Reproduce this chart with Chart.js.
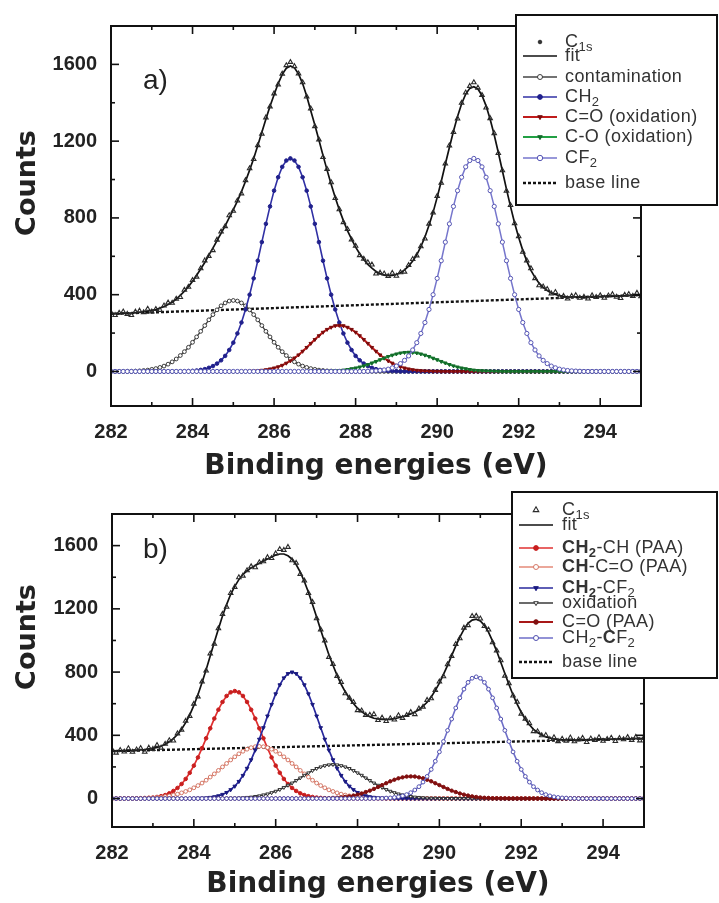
<!DOCTYPE html>
<html><head><meta charset="utf-8">
<script src="https://cdn.jsdelivr.net/npm/chart.js@4.4.0/dist/chart.umd.min.js"></script>
<style>
html,body{margin:0;padding:0;background:#fff;}
#wrap{position:relative;width:719px;height:903px;overflow:hidden;background:#fff;}
#ca{position:absolute;left:0;top:0;}
#cb{position:absolute;left:0;top:488px;}
</style></head><body>
<div id="wrap"><canvas id="ca" width="719" height="488"></canvas><canvas id="cb" width="719" height="415"></canvas></div>
<script>
// ---------- shared axis data ----------
const energies = [
282,282.1,282.2,282.3,282.4,282.5,282.6,282.7,282.8,282.9,
283,283.1,283.2,283.3,283.4,283.5,283.6,283.7,283.8,283.9,
284,284.1,284.2,284.3,284.4,284.5,284.6,284.7,284.8,284.9,
285,285.1,285.2,285.3,285.4,285.5,285.6,285.7,285.8,285.9,
286,286.1,286.2,286.3,286.4,286.5,286.6,286.7,286.8,286.9,
287,287.1,287.2,287.3,287.4,287.5,287.6,287.7,287.8,287.9,
288,288.1,288.2,288.3,288.4,288.5,288.6,288.7,288.8,288.9,
289,289.1,289.2,289.3,289.4,289.5,289.6,289.7,289.8,289.9,
290,290.1,290.2,290.3,290.4,290.5,290.6,290.7,290.8,290.9,
291,291.1,291.2,291.3,291.4,291.5,291.6,291.7,291.8,291.9,
292,292.1,292.2,292.3,292.4,292.5,292.6,292.7,292.8,292.9,
293,293.1,293.2,293.3,293.4,293.5,293.6,293.7,293.8,293.9,
294,294.1,294.2,294.3,294.4,294.5,294.6,294.7,294.8,294.9,
295];
const xTicks = [282,284,286,288,290,292,294];
const xTickLabels = ['282','284','286','288','290','292','294'];
const xMinorTicks = [283,285,287,289,291,293];
const yTicks = [0,400,800,1200,1600];
const yTickLabels = ['0','400','800','1200','1600'];
const yMinorTicks = [200,600,1000,1400];
const xTitle = 'Binding energies (eV)';
const yTitle = 'Counts';

// ---------- panel a ----------
const c1sA = [
306,293,305,312,299,293,311,316,308,326,
312,325,320,343,358,357,378,387,425,440,
476,493,537,578,601,631,686,728,756,813,
836,890,927,996,1058,1106,1178,1238,1323,1380,
1448,1495,1551,1595,1612,1590,1552,1506,1432,1370,
1277,1208,1116,1054,985,903,844,777,741,687,
654,605,586,568,556,509,514,510,496,513,
498,516,519,554,585,604,651,692,769,827,
913,982,1083,1177,1247,1317,1399,1453,1487,1506,
1478,1440,1374,1319,1241,1137,1047,941,866,772,
704,623,578,537,485,448,442,429,406,413,
388,393,379,393,397,383,388,379,396,387,
396,383,395,402,388,382,399,403,393,409,
391];
const fitA = [
300,301,302,302,304,305,307,308,311,314,
319,323,330,338,349,361,377,396,418,442,
470,501,534,568,606,643,682,720,759,801,
843,888,937,991,1049,1110,1177,1247,1316,1382,
1442,1500,1548,1580,1592,1582,1550,1500,1435,1358,
1284,1206,1126,1049,976,907,843,786,734,689,
648,613,583,558,538,521,510,502,499,501,
505,514,529,549,576,608,650,701,762,829,
907,990,1080,1167,1252,1329,1395,1445,1475,1484,
1472,1438,1384,1314,1232,1141,1046,950,859,774,
698,631,575,527,490,460,438,421,409,401,
395,391,389,388,388,387,387,388,389,389,
390,391,392,392,393,394,395,395,396,397,
398];
const contaminationA = [
0,0,0,0,1,1,2,3,5,7,
11,15,21,28,38,50,65,83,103,126,
152,180,209,239,269,296,321,342,357,367,
370,367,357,342,321,296,269,239,209,180,
152,126,103,83,65,50,38,28,21,15,
11,7,5,3,2,1,1,0,0,0,
0,0,0,0,0,0,0,0,0,0,
0,0,0,0,0,0,0,0,0,0,
0,0,0,0,0,0,0,0,0,0,
0,0,0,0,0,0,0,0,0,0,
0,0,0,0,0,0,0,0,0,0,
0,0,0,0,0,0,0,0,0,0,
0,0,0,0,0,0,0,0,0,0,
0];
const ch2A = [
0,0,0,0,0,0,0,0,0,0,
0,0,0,0,0,0,0,0,1,2,
3,5,8,12,19,28,41,58,81,112,
150,198,255,323,400,485,577,674,769,860,
942,1012,1066,1099,1110,1099,1066,1012,942,860,
769,674,577,485,400,323,255,198,150,112,
81,58,41,28,19,12,8,5,3,2,
1,0,0,0,0,0,0,0,0,0,
0,0,0,0,0,0,0,0,0,0,
0,0,0,0,0,0,0,0,0,0,
0,0,0,0,0,0,0,0,0,0,
0,0,0,0,0,0,0,0,0,0,
0,0,0,0,0,0,0,0,0,0,
0];
const coOxA = [
0,0,0,0,0,0,0,0,0,0,
0,0,0,0,0,0,0,0,0,0,
0,0,0,0,0,0,0,0,0,0,
0,0,1,1,2,3,4,6,9,13,
18,24,32,43,55,70,86,105,125,146,
166,186,204,219,230,238,240,238,230,219,
204,186,166,146,125,105,86,70,55,43,
32,24,18,13,9,6,4,3,2,1,
1,0,0,0,0,0,0,0,0,0,
0,0,0,0,0,0,0,0,0,0,
0,0,0,0,0,0,0,0,0,0,
0,0,0,0,0,0,0,0,0,0,
0,0,0,0,0,0,0,0,0,0,
0];
const cOOxA = [
0,0,0,0,0,0,0,0,0,0,
0,0,0,0,0,0,0,0,0,0,
0,0,0,0,0,0,0,0,0,0,
0,0,0,0,0,0,0,0,0,0,
0,0,0,0,0,0,0,0,0,0,
0,1,1,2,3,4,5,7,10,14,
18,23,29,36,44,52,61,69,78,85,
91,96,99,100,99,96,91,85,78,69,
61,52,44,36,29,23,18,14,10,7,
5,4,3,2,1,1,0,0,0,0,
0,0,0,0,0,0,0,0,0,0,
0,0,0,0,0,0,0,0,0,0,
0,0,0,0,0,0,0,0,0,0,
0];
const cf2A = [
0,0,0,0,0,0,0,0,0,0,
0,0,0,0,0,0,0,0,0,0,
0,0,0,0,0,0,0,0,0,0,
0,0,0,0,0,0,0,0,0,0,
0,0,0,0,0,0,0,0,0,0,
0,0,0,0,0,0,0,0,0,0,
0,0,0,1,2,3,5,8,12,19,
28,41,58,81,112,150,198,255,323,400,
485,577,674,769,860,942,1012,1066,1099,1110,
1099,1066,1012,942,860,769,674,577,485,400,
323,255,198,150,112,81,58,41,28,19,
12,8,5,3,2,1,0,0,0,0,
0,0,0,0,0,0,0,0,0,0,
0];
const baseLineA = [{x:282,y:300},{x:295,y:398}];

// ---------- panel b ----------
const c1sB = [
310,289,306,296,317,295,309,319,295,321,
313,338,321,345,368,366,411,435,491,522,
599,645,739,809,917,979,1076,1167,1212,1299,
1338,1399,1409,1443,1468,1462,1494,1500,1526,1520,
1550,1577,1572,1591,1506,1490,1420,1378,1299,1243,
1139,1069,999,895,850,775,737,665,637,610,
558,556,528,529,533,496,511,489,507,499,
526,509,528,547,533,569,580,623,633,686,
739,772,848,901,977,1013,1080,1096,1154,1155,
1138,1090,1068,987,936,874,776,728,651,611,
536,504,476,425,424,399,401,375,387,362,
377,365,385,361,373,383,356,379,369,387,
364,376,384,363,382,374,388,370,389,367,
385];
const fitB = [
300,301,301,302,302,304,306,307,310,314,
317,324,331,343,359,379,405,438,480,530,
589,657,734,815,902,988,1073,1155,1227,1292,
1342,1385,1419,1441,1459,1475,1488,1503,1515,1528,
1540,1547,1547,1536,1514,1480,1432,1373,1305,1228,
1148,1066,987,910,843,779,723,675,635,601,
571,550,531,518,508,504,501,501,502,505,
511,518,525,535,548,562,584,609,643,684,
730,785,842,904,966,1021,1070,1108,1129,1135,
1123,1096,1053,996,933,862,791,721,655,597,
546,502,467,438,418,402,390,383,377,374,
372,371,370,370,370,371,371,372,373,373,
374,374,375,376,376,377,377,378,379,379,
380];
const ch2chB = [
0,0,0,0,0,0,1,1,2,4,
6,10,15,22,33,48,67,92,124,163,
208,260,319,381,444,506,562,611,649,672,
680,672,649,611,562,506,444,381,319,260,
208,163,124,92,67,48,33,22,15,10,
6,4,2,1,1,0,0,0,0,0,
0,0,0,0,0,0,0,0,0,0,
0,0,0,0,0,0,0,0,0,0,
0,0,0,0,0,0,0,0,0,0,
0,0,0,0,0,0,0,0,0,0,
0,0,0,0,0,0,0,0,0,0,
0,0,0,0,0,0,0,0,0,0,
0,0,0,0,0,0,0,0,0,0,
0];
const chcoB = [
0,0,0,0,0,1,1,2,3,4,
5,7,9,13,17,22,28,36,45,55,
68,82,98,116,136,156,178,200,222,244,
264,283,299,312,322,328,330,328,322,312,
299,283,264,244,222,200,178,156,136,116,
98,82,68,55,45,36,28,22,17,13,
9,7,5,4,3,2,1,1,0,0,
0,0,0,0,0,0,0,0,0,0,
0,0,0,0,0,0,0,0,0,0,
0,0,0,0,0,0,0,0,0,0,
0,0,0,0,0,0,0,0,0,0,
0,0,0,0,0,0,0,0,0,0,
0,0,0,0,0,0,0,0,0,0,
0];
const ch2cf2B = [
0,0,0,0,0,0,0,0,0,0,
0,0,0,0,0,0,0,0,0,0,
1,2,3,4,7,11,17,26,38,56,
78,108,146,191,245,306,375,448,522,595,
662,719,763,790,800,790,763,719,662,595,
522,448,375,306,245,191,146,108,78,56,
38,26,17,11,7,4,3,2,1,0,
0,0,0,0,0,0,0,0,0,0,
0,0,0,0,0,0,0,0,0,0,
0,0,0,0,0,0,0,0,0,0,
0,0,0,0,0,0,0,0,0,0,
0,0,0,0,0,0,0,0,0,0,
0,0,0,0,0,0,0,0,0,0,
0];
const oxidationB = [
0,0,0,0,0,0,0,0,0,0,
0,0,0,0,0,0,0,0,0,0,
0,0,0,0,0,0,0,1,1,2,
2,3,5,7,9,13,17,23,29,37,
46,57,70,84,98,114,130,147,162,177,
190,200,208,213,215,213,208,200,190,177,
162,147,130,114,98,84,70,57,46,37,
29,23,17,13,9,7,5,3,2,2,
1,1,0,0,0,0,0,0,0,0,
0,0,0,0,0,0,0,0,0,0,
0,0,0,0,0,0,0,0,0,0,
0,0,0,0,0,0,0,0,0,0,
0,0,0,0,0,0,0,0,0,0,
0];
const coPaaB = [
0,0,0,0,0,0,0,0,0,0,
0,0,0,0,0,0,0,0,0,0,
0,0,0,0,0,0,0,0,0,0,
0,0,0,0,0,0,0,0,0,0,
0,0,0,0,0,0,0,0,0,0,
1,1,2,2,4,5,7,10,14,19,
25,32,41,50,61,73,85,97,109,119,
128,134,139,140,139,134,128,119,109,97,
85,73,61,50,41,32,25,19,14,10,
7,5,4,2,2,1,1,0,0,0,
0,0,0,0,0,0,0,0,0,0,
0,0,0,0,0,0,0,0,0,0,
0,0,0,0,0,0,0,0,0,0,
0];
const ch2CF2B = [
0,0,0,0,0,0,0,0,0,0,
0,0,0,0,0,0,0,0,0,0,
0,0,0,0,0,0,0,0,0,0,
0,0,0,0,0,0,0,0,0,0,
0,0,0,0,0,0,0,0,0,0,
0,0,0,0,0,0,0,0,0,0,
0,0,0,0,0,1,1,3,4,7,
11,17,25,37,54,75,104,140,184,236,
295,361,431,503,573,637,692,735,761,770,
761,735,692,637,573,503,431,361,295,236,
184,140,104,75,54,37,25,17,11,7,
4,3,1,1,0,0,0,0,0,0,
0,0,0,0,0,0,0,0,0,0,
0];
const baseLineB = [{x:282,y:300},{x:295,y:380}];

// legend labels: [text, flags] (b = bold, s = subscript)
const legendLabelsA = [
  [['C',''],['1s','s']],
  [['fit','']],
  [['contamination','']],
  [['CH',''],['2','s']],
  [['C=O (oxidation)','']],
  [['C-O (oxidation)','']],
  [['CF',''],['2','s']],
  [['base line','']]
];
const legendLabelsB = [
  [['C',''],['1s','s']],
  [['fit','']],
  [['CH','b'],['2','bs'],['-CH (PAA)','']],
  [['CH','b'],['-C=O (PAA)','']],
  [['CH','b'],['2','bs'],['-CF',''],['2','s']],
  [['oxidation','']],
  [['C=O (PAA)','']],
  [['CH',''],['2','s'],['-',''],['C','b'],['F',''],['2','s']],
  [['base line','']]
];

// ---------- drawing ----------
Chart.defaults.font.family = '"Liberation Sans", Arial, sans-serif';
const TXT = '#222';

function seg(ctx, segs, x, y) {
  for (const [t, f] of segs) {
    const bold = f.includes('b'), sub = f.includes('s');
    ctx.font = (bold ? 'bold ' : '') + (sub ? 13 : 18) + 'px "Liberation Sans"';
    ctx.fillText(t, x, y + (sub ? 5 : 0));
    x += ctx.measureText(t).width;
  }
}

const decor = {
  id: 'decor',
  afterDraw(chart, _a, o) {
    const ctx = chart.ctx, ca = chart.chartArea, xs = chart.scales.x, ys = chart.scales.y;
    ctx.save();
    ctx.strokeStyle = '#111';
    ctx.lineWidth = 2;
    ctx.strokeRect(ca.left, ca.top, ca.right - ca.left, ca.bottom - ca.top);
    ctx.lineWidth = 1.6;
    const ln = (x1, y1, x2, y2) => { ctx.beginPath(); ctx.moveTo(x1, y1); ctx.lineTo(x2, y2); ctx.stroke(); };
    xTicks.forEach(v => { const p = xs.getPixelForValue(v); ln(p, ca.bottom, p, ca.bottom - 8); ln(p, ca.top, p, ca.top + 8); });
    xMinorTicks.forEach(v => { const p = xs.getPixelForValue(v); ln(p, ca.bottom, p, ca.bottom - 4); ln(p, ca.top, p, ca.top + 4); });
    yTicks.forEach(v => { const p = ys.getPixelForValue(v); ln(ca.left, p, ca.left + 8, p); ln(ca.right, p, ca.right - 8, p); });
    yMinorTicks.forEach(v => { const p = ys.getPixelForValue(v); ln(ca.left, p, ca.left + 4, p); ln(ca.right, p, ca.right - 4, p); });
    // y title
    ctx.save();
    ctx.translate(o.yTitleX, o.yTitleY);
    ctx.rotate(-Math.PI / 2);
    ctx.font = 'bold 27px "DejaVu Sans"';
    ctx.fillStyle = TXT; ctx.textAlign = 'center'; ctx.textBaseline = 'middle';
    ctx.fillText(yTitle, 0, 0);
    ctx.restore();
    // panel tag
    ctx.font = '28px "Liberation Sans"';
    ctx.fillStyle = TXT; ctx.textAlign = 'left'; ctx.textBaseline = 'alphabetic';
    ctx.fillText(o.tag, o.tagX, o.tagY);
    // legend
    const L = o.legend;
    ctx.fillStyle = '#fff';
    ctx.fillRect(L.x, L.y, L.w, L.h);
    ctx.strokeStyle = '#111'; ctx.lineWidth = 2;
    ctx.strokeRect(L.x, L.y, L.w, L.h);
    try { ctx.letterSpacing = '0.4px'; } catch (e) {}
    chart.data.datasets.forEach((ds, i) => {
      const y = L.rows[i];
      const x1 = L.x + 7, x2 = L.x + 41, cx = (x1 + x2) / 2;
      if (ds.showLine !== false) {
        ctx.strokeStyle = ds.borderColor; ctx.lineWidth = ds.borderWidth;
        ctx.setLineDash(ds.borderDash || []);
        ln(x1, y, x2, y);
        ctx.setLineDash([]);
      }
      const mk = (o.markers && o.markers[i]) || ds;
      if (mk.pointRadius > 0) {
        ctx.fillStyle = mk.pointBackgroundColor; ctx.strokeStyle = mk.pointBorderColor;
        ctx.lineWidth = mk.pointBorderWidth || 1;
        Chart.helpers.drawPoint(ctx, {pointStyle: mk.pointStyle, radius: mk.pointRadius + 0.6, rotation: mk.pointRotation || 0, borderWidth: mk.pointBorderWidth || 1}, cx, y);
      }
      ctx.fillStyle = '#333'; ctx.textAlign = 'left'; ctx.textBaseline = 'middle';
      seg(ctx, o.labels[i], L.textX, y);
    });
    ctx.restore();
  }
};

function makeChart(id, datasets, lay, decorOpts) {
  return new Chart(document.getElementById(id), {
    type: 'line',
    data: {labels: energies, datasets},
    plugins: [decor],
    options: {
      responsive: false, animation: false, devicePixelRatio: 1,
      layout: {padding: lay.padding},
      elements: {line: {tension: 0}},
      plugins: {legend: {display: false}, tooltip: {enabled: false}, decor: decorOpts},
      scales: {
        x: {
          type: 'linear', min: 282, max: 295,
          grid: {display: false, drawTicks: false}, border: {display: false},
          afterBuildTicks: s => { s.ticks = xTicks.map(v => ({value: v})); },
          afterFit: s => { s.height = lay.xHeight; },
          ticks: {padding: 14, color: TXT, autoSkip: false, maxRotation: 0,
            font: {family: '"Liberation Sans"', weight: 'bold', size: 20},
            callback: v => xTickLabels[xTicks.indexOf(v)]},
          title: {display: true, text: xTitle, color: TXT,
            font: {family: '"DejaVu Sans"', weight: 'bold', size: 28},
            padding: {top: 0, bottom: lay.xTitlePad}}
        },
        y: {
          type: 'linear', min: -180, max: 1800,
          grid: {display: false, drawTicks: false}, border: {display: false},
          afterBuildTicks: s => { s.ticks = yTicks.map(v => ({value: v})); },
          afterFit: s => { s.width = lay.yWidth; },
          ticks: {padding: 14, color: TXT,
            font: {family: '"Liberation Sans"', weight: 'bold', size: 20},
            callback: v => yTickLabels[yTicks.indexOf(v)]}
        }
      }
    }
  });
}

function pts(o) { return Object.assign({borderWidth: 1.5, pointBorderWidth: 1, pointHoverRadius: 0}, o); }

const dotMarker = {pointStyle: 'circle', pointRadius: 1.2, pointBackgroundColor: '#333', pointBorderColor: '#333', pointBorderWidth: 1};

makeChart('ca', [
  pts({label: 'C1s', data: c1sA, showLine: false, pointStyle: 'triangle', pointRadius: 2.6, pointBorderColor: '#2a2a2a', pointBackgroundColor: 'rgba(0,0,0,0)', pointBorderWidth: 1.1, borderColor: '#333', order: 0}),
  pts({label: 'fit', data: fitA, borderColor: '#111', borderWidth: 1.7, pointRadius: 0, order: 1}),
  pts({label: 'contamination', data: contaminationA, borderColor: '#444', borderWidth: 1.4, pointStyle: 'circle', pointRadius: 1.9, pointBorderColor: '#2a2a2a', pointBackgroundColor: '#fff', pointBorderWidth: 0.9, order: 6}),
  pts({label: 'CH2', data: ch2A, borderColor: '#3030a4', borderWidth: 1.6, pointStyle: 'circle', pointRadius: 1.8, pointBorderColor: '#20208c', pointBackgroundColor: '#20208c', order: 5}),
  pts({label: 'C=O (oxidation)', data: coOxA, borderColor: '#c01c1c', borderWidth: 2, pointStyle: 'triangle', pointRotation: 180, pointRadius: 2, pointBorderColor: '#7a0c0c', pointBackgroundColor: '#7a0c0c', order: 4}),
  pts({label: 'C-O (oxidation)', data: cOOxA, borderColor: '#22a044', borderWidth: 2, pointStyle: 'triangle', pointRotation: 180, pointRadius: 2, pointBorderColor: '#146a2a', pointBackgroundColor: '#146a2a', order: 3}),
  pts({label: 'CF2', data: cf2A, borderColor: '#7676cc', borderWidth: 1.5, pointStyle: 'circle', pointRadius: 2.1, pointBorderColor: '#5656b4', pointBackgroundColor: '#fff', pointBorderWidth: 1, order: 2}),
  pts({label: 'base line', data: baseLineA, borderColor: '#111', borderWidth: 2.4, borderDash: [3, 2], pointRadius: 0, order: 7})
], {padding: {left: 0, right: 78, top: 17, bottom: 0}, xHeight: 82, yWidth: 111, xTitlePad: 4},
{yTitleX: 28, yTitleY: 183, tag: 'a)', tagX: 143, tagY: 89,
 legend: {x: 516, y: 15, w: 201, h: 190, textX: 565, rows: [42, 56, 77, 97, 117, 137, 158, 183]},
 labels: legendLabelsA, markers: [dotMarker]});

makeChart('cb', [
  pts({label: 'C1s', data: c1sB, showLine: false, pointStyle: 'triangle', pointRadius: 2.6, pointBorderColor: '#2a2a2a', pointBackgroundColor: 'rgba(0,0,0,0)', pointBorderWidth: 1.1, borderColor: '#333', order: 0}),
  pts({label: 'fit', data: fitB, borderColor: '#111', borderWidth: 1.7, pointRadius: 0, order: 1}),
  pts({label: 'CH2-CH (PAA)', data: ch2chB, borderColor: '#e03030', borderWidth: 1.7, pointStyle: 'circle', pointRadius: 1.8, pointBorderColor: '#c81e1e', pointBackgroundColor: '#c81e1e', order: 7}),
  pts({label: 'CH-C=O (PAA)', data: chcoB, borderColor: '#e58a78', borderWidth: 1.7, pointStyle: 'circle', pointRadius: 1.9, pointBorderColor: '#cf6c5a', pointBackgroundColor: '#fff', pointBorderWidth: 0.9, order: 6}),
  pts({label: 'CH2-CF2', data: ch2cf2B, borderColor: '#28289c', borderWidth: 1.7, pointStyle: 'triangle', pointRotation: 180, pointRadius: 2.1, pointBorderColor: '#1a1a80', pointBackgroundColor: '#1a1a80', order: 5}),
  pts({label: 'oxidation', data: oxidationB, borderColor: '#3a3a3a', borderWidth: 1.5, pointStyle: 'triangle', pointRotation: 180, pointRadius: 2, pointBorderColor: '#222', pointBackgroundColor: '#fff', pointBorderWidth: 0.9, order: 4}),
  pts({label: 'C=O (PAA)', data: coPaaB, borderColor: '#a81818', borderWidth: 1.8, pointStyle: 'circle', pointRadius: 1.7, pointBorderColor: '#801010', pointBackgroundColor: '#801010', order: 3}),
  pts({label: 'CH2-CF2', data: ch2CF2B, borderColor: '#6e6ec8', borderWidth: 1.6, pointStyle: 'circle', pointRadius: 1.9, pointBorderColor: '#5050b0', pointBackgroundColor: '#fff', pointBorderWidth: 1, order: 2}),
  pts({label: 'base line', data: baseLineB, borderColor: '#111', borderWidth: 2.4, borderDash: [3, 2], pointRadius: 0, order: 8})
], {padding: {left: 0, right: 75, top: 4, bottom: 0}, xHeight: 76, yWidth: 112, xTitlePad: 1},
{yTitleX: 28, yTitleY: 149, tag: 'b)', tagX: 143, tagY: 70,
 legend: {x: 512, y: 4, w: 205, h: 186, textX: 562, rows: [22, 37, 60, 79, 100, 115, 134, 150, 174]},
 labels: legendLabelsB});
</script>
</body></html>
